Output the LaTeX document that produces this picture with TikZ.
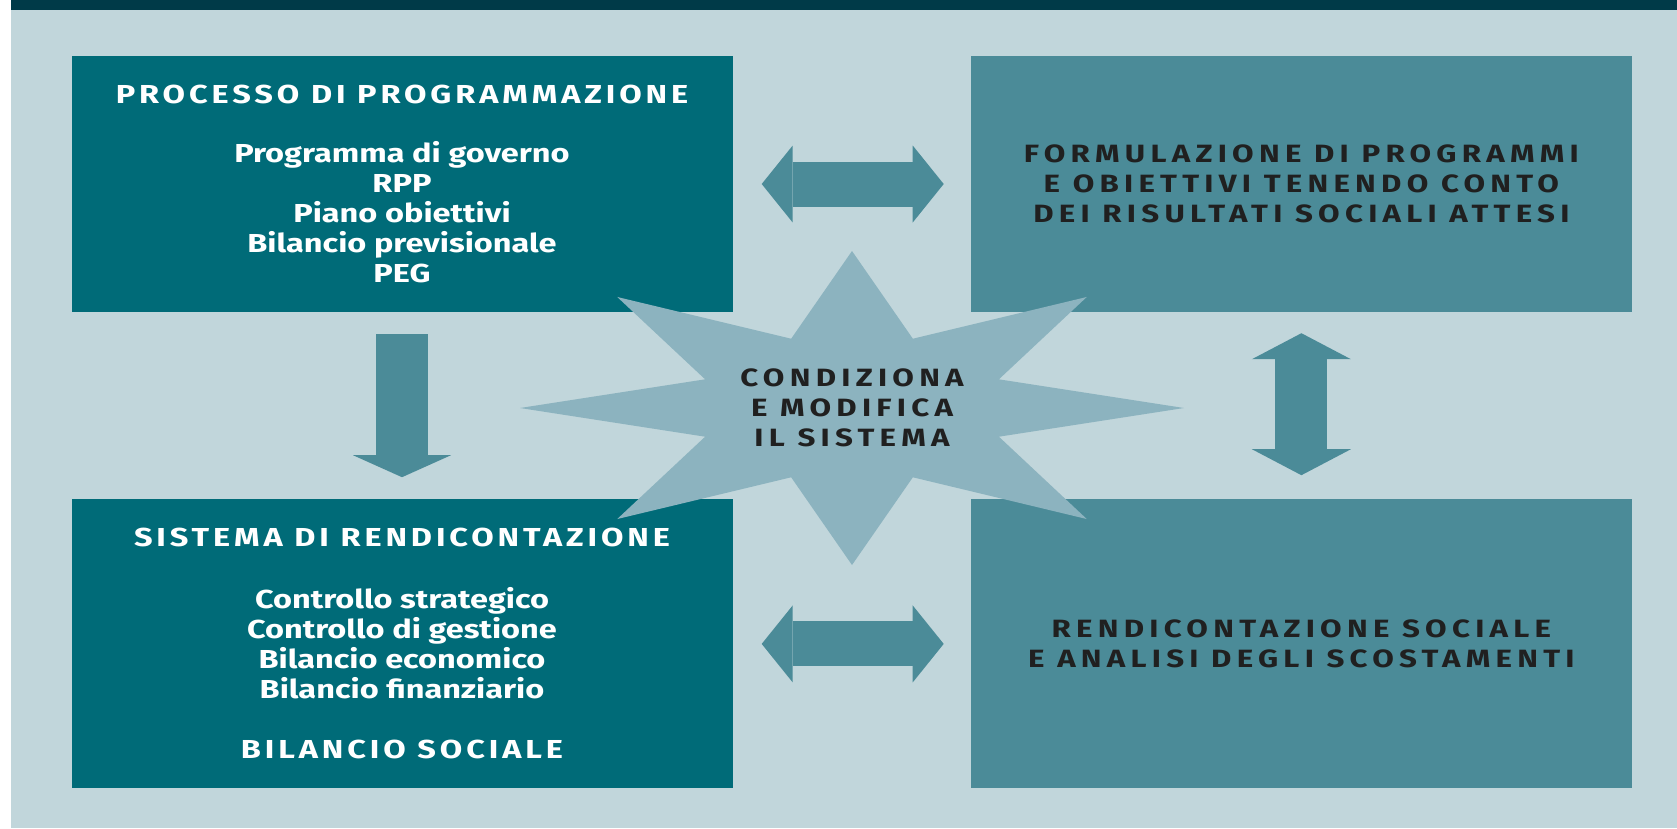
\documentclass[tikz,border=0pt]{standalone}
\usepackage{fontspec}
\setmainfont[FakeStretch=1.25]{Fira Sans}
\newfontfamily\capsfont[FakeStretch=1.25,LetterSpace=15]{Fira Sans}
\newfontfamily\inkcaps[FakeStretch=1.25,LetterSpace=21]{Fira Sans}
\usetikzlibrary{arrows.meta, positioning}
\definecolor{bgblue}{RGB}{193,214,219}
\definecolor{topbar}{RGB}{0,58,72}
\definecolor{deepteal}{RGB}{0,107,120}
\definecolor{midteal}{RGB}{75,139,152}
\definecolor{starblue}{RGB}{140,179,191}
\definecolor{ink}{RGB}{32,32,32}
\tikzset{
    x=1pt, y=-1pt,
    panel/.style={minimum width=661pt, minimum height=256pt, inner sep=0pt, align=center},
    deep/.style={panel, fill=deepteal, text=white, font=\bfseries\fontsize{26}{30}\selectfont},
    mid/.style={panel, fill=midteal, text=ink, font=\inkcaps\bfseries\fontsize{25}{30}\selectfont},
    tall/.style={minimum height=289pt},
    hbar/.style={draw=midteal, line width=45pt,
        {Triangle[length=31pt,width=77pt,line width=0pt]}-{Triangle[length=31pt,width=77pt,line width=0pt]}},
    vdown/.style={draw=midteal, line width=52pt, -{Triangle[length=22pt,width=98pt,line width=0pt]}},
    vboth/.style={draw=midteal, line width=52pt,
        {Triangle[length=26pt,width=99pt,line width=0pt]}-{Triangle[length=26pt,width=99pt,line width=0pt]}}
}

\begin{document}
\begin{tikzpicture}
    \useasboundingbox (0,0) rectangle (1677,828);
    \fill[white] (0,0) rectangle (1677,828);
    \fill[bgblue] (11,10) rectangle (1677,828);
    \fill[topbar] (11,0) rectangle (1677,10);

    \node (prog) [deep] at (402,184)
        {{\capsfont PROCESSO DI PROGRAMMAZIONE}\\[29pt]
         Programma di governo\\ RPP\\ Piano obiettivi\\ Bilancio previsionale\\ PEG};
    \node (plan) [mid, right = 238pt of prog]
        {FORMULAZIONE DI PROGRAMMI\\ E OBIETTIVI TENENDO CONTO\\ DEI RISULTATI SOCIALI ATTESI};
    \node (report) [deep, tall, below = 187pt of prog]
        {{\capsfont SISTEMA DI RENDICONTAZIONE}\\[32pt]
         Controllo strategico\\ Controllo di gestione\\ Bilancio economico\\ Bilancio finanziario\\[30pt]
         {\capsfont BILANCIO SOCIALE}};
    \node (social) [mid, tall, right = 238pt of report]
        {RENDICONTAZIONE SOCIALE\\ E ANALISI DEGLI SCOSTAMENTI};

    \draw
        (prog) edge[hbar, shorten <=29pt, shorten >=27pt] (plan)
        (report) edge[hbar, shorten <=29pt, shorten >=27pt] (social)
        (prog) edge[vdown, shorten <=22pt, shorten >=22pt] (report)
        (plan) edge[vboth, shorten <=21pt, shorten >=24pt] (social)
        ;

    % the star in the middle
    \fill[starblue, shift={(852,408)}] (0:332 and 157)
        \foreach \a [evaluate=\a as \b using \a+22.5] in {0,45,...,315} { -- (\a:332 and 157) -- (\b:159 and 75) }
        -- cycle;
    \node (cond) [align=center, text=ink, inner sep=0pt, font=\inkcaps\bfseries\fontsize{25}{30}\selectfont]
        at (852,408) {CONDIZIONA\\ E MODIFICA\\ IL SISTEMA};
\end{tikzpicture}
\end{document}
